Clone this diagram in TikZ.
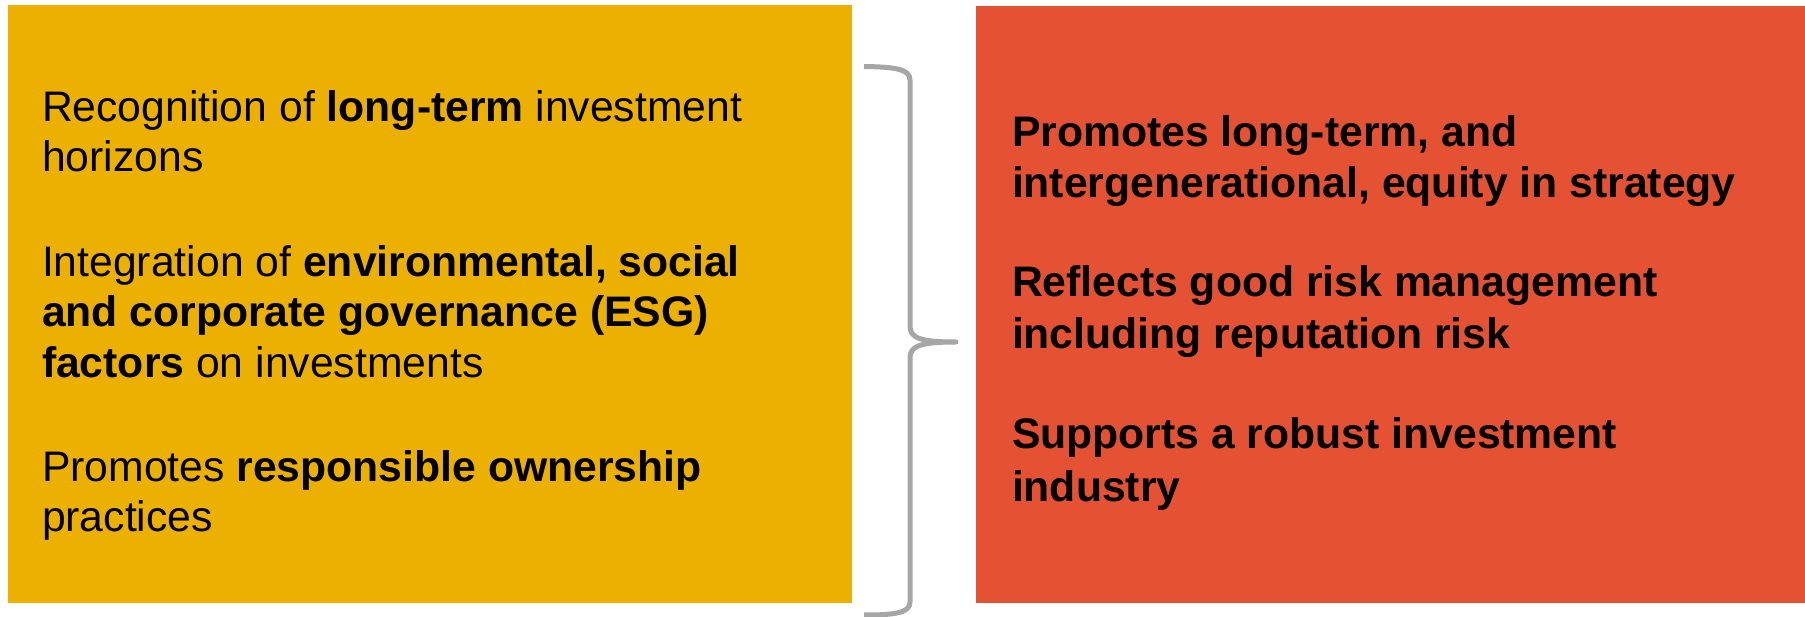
\documentclass[tikz,border=0pt]{standalone}
\usepackage{fontspec}
\setmainfont{Liberation Sans}
\definecolor{goldbox}{HTML}{EBB000}
\definecolor{redbox}{HTML}{E45133}
\definecolor{bracegray}{HTML}{A6A6A6}
\begin{document}
\begin{tikzpicture}[x=1pt,y=-1pt,
  panel/.style={anchor=north west, inner sep=0pt, outer sep=0pt, draw=none},
  txt/.style={anchor=base west, inner sep=0pt, outer sep=0pt, font=\fontsize{42.7}{50}\selectfont, text=black},
  bracestyle/.style={draw=bracegray, line width=5pt, line join=round, line cap=butt}]
\useasboundingbox (0,0) rectangle (1805,617);
\node (left) [panel, fill=goldbox, minimum width=844pt, minimum height=598pt] at (8,5) {};
\node (right) [panel, fill=redbox, minimum width=829pt, minimum height=597pt] at (976,6) {};
% left texts
\node (la1) [txt] at (42,122) {Recognition of \textbf{long-term} investment};
\node (la2) [txt] at (42,172) {horizons};
\node (lb1) [txt] at (42,277) {Integration of \textbf{environmental, social}};
\node (lb2) [txt] at (42,327) {\textbf{and corporate governance (ESG)}};
\node (lb3) [txt] at (42,378) {\textbf{factors} on investments};
\node (lc1) [txt] at (42,481) {Promotes \textbf{responsible ownership}};
\node (lc2) [txt] at (42,531) {practices};
% right texts
\node (ra1) [txt] at (1012,147) {\textbf{Promotes long-term, and}};
\node (ra2) [txt] at (1012,198) {\textbf{intergenerational, equity in strategy}};
\node (rb1) [txt] at (1012,297) {\textbf{Reflects good risk management}};
\node (rb2) [txt] at (1012,349) {\textbf{including reputation risk}};
\node (rc1) [txt] at (1012,449) {\textbf{Supports a robust investment}};
\node (rc2) [txt] at (1012,501) {\textbf{industry}};
% brace
\coordinate (btop) at (864,66.5);
\coordinate (btip) at (956,342);
\coordinate (bbot) at (864,615);
\draw[bracestyle] (btop) .. controls (895,67) and (910,69) .. (910,80)
  -- (910,326) .. controls (910,338) and (920,342) .. (btip)
  .. controls (920,342) and (910,346) .. (910,358)
  -- (910,602) .. controls (910,613) and (895,615) .. (bbot);
\end{tikzpicture}
\end{document}
